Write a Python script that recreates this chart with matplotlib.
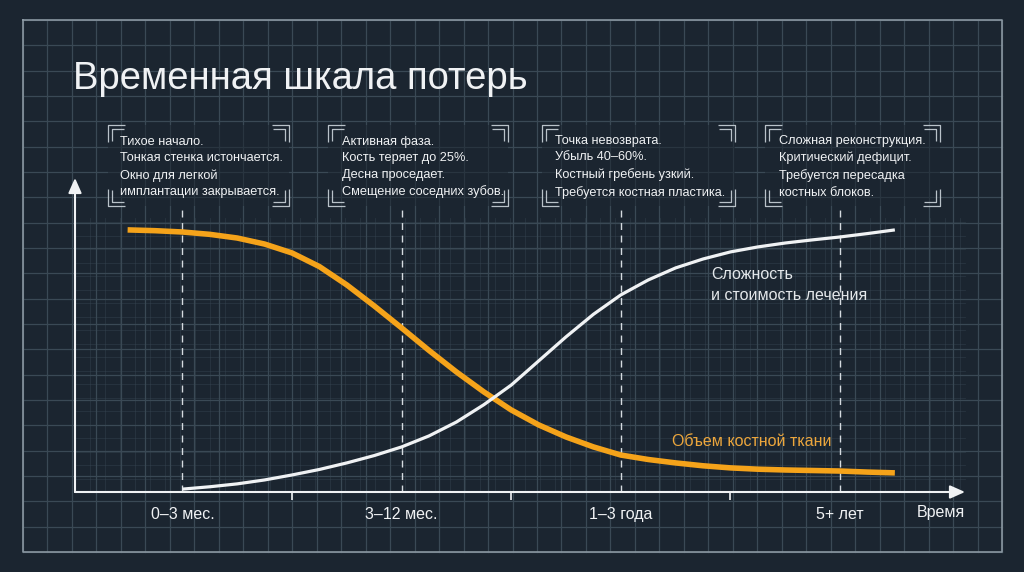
import matplotlib
matplotlib.use('Agg')
import matplotlib.pyplot as plt
import numpy as np

plt.rcParams['font.family'] = ['Liberation Sans', 'DejaVu Sans']

# Data
stages = ['0–3 мес.', '3–12 мес.', '1–3 года', '5+ лет']
stage_pos = np.arange(len(stages))
mid_ticks = [0.5, 1.5, 2.5]

bone_x = [-0.25, -0.125, 0, 0.125, 0.25, 0.375, 0.5, 0.625, 0.75, 0.875, 1.0, 1.125,
          1.25, 1.375, 1.5, 1.625, 1.75, 1.875, 2.0, 2.125, 2.25, 2.375, 2.5, 2.625,
          2.75, 2.875, 3.0, 3.125, 3.25]
bone_y = [100, 99.7, 99.2, 98.3, 96.9, 94.6, 91.2, 86.0, 79.0, 71.0, 62.6, 54.0,
          45.8, 38.2, 31.3, 25.6, 21.0, 17.2, 14.1, 12.4, 11.1, 10.0, 9.2, 8.7,
          8.4, 8.2, 8.0, 7.6, 7.3]

cost_x = [0, 0.125, 0.25, 0.375, 0.5, 0.625, 0.75, 0.875, 1.0, 1.125, 1.25, 1.375,
          1.5, 1.625, 1.75, 1.875, 2.0, 2.125, 2.25, 2.375, 2.5, 2.625, 2.75, 2.875,
          3.0, 3.125, 3.25]
cost_y = [1.1, 2.0, 3.1, 4.6, 6.5, 8.6, 11.1, 13.9, 17.2, 21.4, 26.7, 33.3,
          40.8, 50.0, 59.2, 67.8, 75.2, 80.9, 85.5, 88.9, 91.6, 93.5, 95.0, 96.2,
          97.3, 98.6, 100]

notes = [
    'Тихое начало.\nТонкая стенка истончается.\nОкно для легкой\nимплантации закрывается.',
    'Активная фаза.\nКость теряет до 25%.\nДесна проседает.\nСмещение соседних зубов.',
    'Точка невозврата.\nУбыль 40–60%.\nКостный гребень узкий.\nТребуется костная пластика.',
    'Сложная реконструкция.\nКритический дефицит.\nТребуется пересадка\nкостных блоков.',
]

BG = '#1b2530'
GRID = '#3a4955'
FRAME = '#8a97a1'
WHITE = '#f0f2f4'
ORANGE = '#f5a31a'

fig = plt.figure(figsize=(10.24, 5.72), dpi=100, facecolor=BG)

# background "blueprint" layer in pixel coordinates
bg = fig.add_axes([0, 0, 1, 1])
bg.set_xlim(0, 1024)
bg.set_ylim(572, 0)
bg.axis('off')
bg.set_facecolor(BG)

fx0, fx1, fy0, fy1 = 23, 1002, 20, 552
for gx in np.linspace(fx0, fx1, 41):
    bg.plot([gx, gx], [fy0, fy1], color=GRID, lw=0.9, zorder=0)
for gy in np.linspace(fy0, fy1, 22):
    bg.plot([fx0, fx1], [gy, gy], color=GRID, lw=0.9, zorder=0)
# finer grid in the chart region
for gx in np.arange(75, 966, 15):
    bg.plot([gx, gx], [218, 492], color=GRID, lw=0.6, alpha=0.45, zorder=0)
for gy in np.arange(222, 492, 13.5):
    bg.plot([75, 965], [gy, gy], color=GRID, lw=0.6, alpha=0.45, zorder=0)
bg.plot([fx0, fx1, fx1, fx0, fx0], [fy0, fy0, fy1, fy1, fy0], color=FRAME, lw=1.2, zorder=1)

bg.text(73, 79, 'Временная шкала потерь', fontsize=27.5, color=WHITE,
        ha='left', va='center', zorder=5)

# annotation boxes with corner brackets
boxes = [(108, 125, 289, 206), (328, 125, 508, 206), (542, 125, 735, 206), (765, 125, 940, 206)]
text_x = [120, 342, 555, 779]


def bracket(x, y, dx, dy):
    for off, arm in [(0, 17), (4, 12)]:
        cx, cy = x + dx * off, y + dy * off
        bg.plot([cx, cx, cx + dx * arm], [cy + dy * arm, cy, cy],
                color='#b9c2c9', lw=0.9, solid_capstyle='butt', zorder=4)


for (x0, y0, x1, y1), tx, note in zip(boxes, text_x, notes):
    bg.add_patch(plt.Rectangle((x0, y0), x1 - x0, y1 - y0, color=BG, alpha=0.55, zorder=2, lw=0))
    bracket(x0, y0, 1, 1)
    bracket(x1, y0, -1, 1)
    bracket(x0, y1, 1, -1)
    bracket(x1, y1, -1, -1)
    bg.text(tx, 167, note, fontsize=9.2, color=WHITE, ha='left', va='center',
            linespacing=1.5, zorder=5)

bg.text(941, 512, 'Время', fontsize=11.5, color=WHITE, ha='center', va='center', zorder=5)
bg.text(711, 285, 'Сложность\nи стоимость лечения', fontsize=11.5, color='#e4e8eb',
        ha='left', va='center', linespacing=1.45, zorder=5)
bg.text(752, 442, 'Объем костной ткани', fontsize=11.5, color='#eca63c',
        ha='center', va='center', zorder=5)

# data axes
ax = fig.add_axes([75 / 1024, 80 / 572, 890 / 1024, 314 / 572])
ax.patch.set_alpha(0)
ax.set_xlim(-0.49, 3.57)
ax.set_ylim(0, 119.8)
for s in ax.spines.values():
    s.set_visible(False)

ax.annotate('', xy=(1, 0), xytext=(0, 0), xycoords='axes fraction',
            arrowprops=dict(arrowstyle='-|>,head_length=0.9,head_width=0.4', color=WHITE,
                            lw=1.5, shrinkA=0, shrinkB=0))
ax.annotate('', xy=(0, 1), xytext=(0, 0), xycoords='axes fraction',
            arrowprops=dict(arrowstyle='-|>,head_length=0.9,head_width=0.4', color=WHITE,
                            lw=1.5, shrinkA=0, shrinkB=0))

for xp in stage_pos:
    ax.plot([xp, xp], [0, 108.4], color='#d5dbe0', lw=1.0, dashes=(5, 4), zorder=2)

ax.plot(bone_x, bone_y, color=ORANGE, lw=4.0, solid_capstyle='butt',
        solid_joinstyle='round', zorder=3)
ax.plot(cost_x, cost_y, color=WHITE, lw=2.3, solid_capstyle='butt',
        solid_joinstyle='round', zorder=4)

ax.set_yticks([])
ax.set_xticks(stage_pos)
ax.set_xticklabels(stages, fontsize=11.5, color=WHITE)
ax.tick_params(axis='x', which='major', length=0, pad=11)
ax.set_xticks(mid_ticks, minor=True)
ax.tick_params(axis='x', which='minor', length=6, width=1.2, color=WHITE)

fig.savefig('out.png', dpi=100, facecolor=BG)
